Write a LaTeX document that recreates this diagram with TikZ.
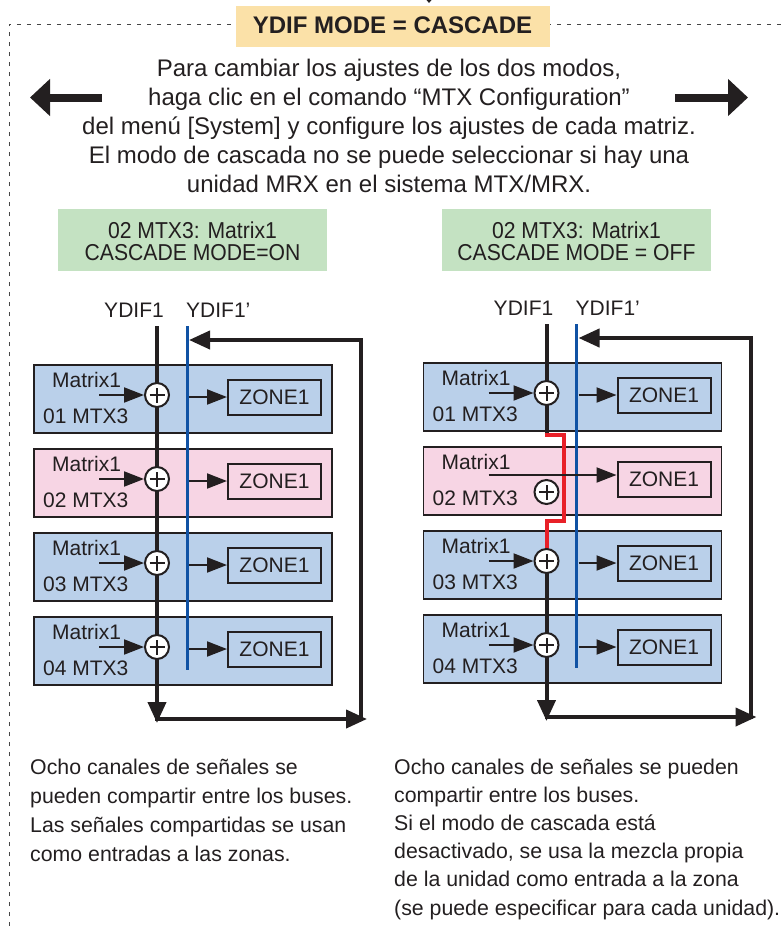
\documentclass[tikz,border=0pt]{standalone}
\usepackage{fontspec}
\setmainfont{Liberation Sans}
\newfontfamily\narrowsans[FakeStretch=0.92]{Liberation Sans}
\usetikzlibrary{arrows.meta}
\definecolor{ink}{RGB}{35,31,32}
\definecolor{titlefill}{RGB}{251,225,168}
\definecolor{greenfill}{RGB}{196,226,194}
\definecolor{unitblue}{RGB}{186,208,234}
\definecolor{unitpink}{RGB}{247,213,228}
\definecolor{busblue}{RGB}{16,82,164}
\definecolor{cascred}{RGB}{232,32,40}
\definecolor{frameg}{RGB}{70,70,70}
\tikzset{
  unitbox/.style={draw=ink, line width=1.6pt, minimum width=298pt, minimum height=68pt, inner sep=0pt},
  zonebox/.style={draw=ink, line width=2pt, minimum width=93pt, minimum height=35pt, inner sep=0pt, font=\fontsize{21}{21}\selectfont},
  lbl/.style={inner sep=0pt, font=\fontsize{21}{21}\selectfont},
  maintext/.style={inner sep=0pt, anchor=base, font=\fontsize{24}{29}\selectfont},
  notetext/.style={inner sep=0pt, anchor=base west, font=\fontsize{21.3}{28}\selectfont},
  greentext/.style={inner sep=0pt, anchor=base, font=\narrowsans\fontsize{23}{22}\selectfont},
  greenbox/.style={fill=greenfill, minimum width=269pt, minimum height=62pt, inner sep=0pt},
  sumnode/.style={circle, draw=ink, fill=white, line width=2pt, minimum size=24pt, inner sep=0pt,
     path picture={\draw[line width=2pt,ink]
       ([xshift=-7.5pt]path picture bounding box.center) -- ([xshift=7.5pt]path picture bounding box.center)
       ([yshift=-7.5pt]path picture bounding box.center) -- ([yshift=7.5pt]path picture bounding box.center);}},
  bus/.style={line width=4pt, draw=ink},
  bluebus/.style={line width=3pt, draw=busblue},
  redbus/.style={line width=4pt, draw=cascred, line join=miter},
  bigtip/.style={-{Triangle[length=21pt,width=18pt]}},
  smallarr/.style={line width=2pt, draw=ink, -{Triangle[length=20pt,width=15pt]}},
  fatarrow/.style={line width=8pt, draw=ink, -{Triangle[length=20pt,width=36pt]}},
  dashframe/.style={draw=frameg, line width=1pt, dash pattern=on 4pt off 6pt},
}
\begin{document}
\begin{tikzpicture}[x=1pt,y=-1pt,color=ink]
\useasboundingbox (0,0) rectangle (783,926);

% dashed frame and title
\coordinate (F1) at (9,926);
\coordinate (F2) at (9,24);
\coordinate (F3) at (783,24);
\draw[dashframe] (F1) -- (F2) -- (F3);
\fill (426.5,0) -- (431.5,0) -- (429,3) -- cycle;
\node[fill=titlefill, minimum width=314pt, minimum height=41pt, inner sep=0pt] (T) at (393,26.5) {};
\node[inner sep=0pt, anchor=base, font=\fontsize{24}{24}\selectfont\bfseries] (Tt) at (392.5,33) {YDIF MODE = CASCADE};

% big arrows
\coordinate (BL1) at (102,97.5);
\coordinate (BL2) at (30,97.5);
\coordinate (BR1) at (675,97.5);
\coordinate (BR2) at (748,97.5);
\draw[fatarrow] (BL1) -- (BL2);
\draw[fatarrow] (BR1) -- (BR2);

% main text
\node[maintext] (P1) at (389,76) {Para cambiar los ajustes de los dos modos,};
\node[maintext] (P2) at (389,105) {haga clic en el comando “MTX Configuration”};
\node[maintext] (P3) at (389,134) {del menú [System] y configure los ajustes de cada matriz.};
\node[maintext] (P4) at (389,163) {El modo de cascada no se puede seleccionar si hay una};
\node[maintext] (P5) at (389,192) {unidad MRX en el sistema MTX/MRX.};

% green boxes
\node[greenbox] (GL) at (192.5,240) {};
\node[greentext] (GL1) at (192.5,238) {02 MTX3: Matrix1};
\node[greentext] (GL2) at (192.5,260) {CASCADE MODE=ON};
\node[greenbox] (GR) at (576.5,240) {};
\node[greentext] (GR1) at (576.5,238) {02 MTX3: Matrix1};
\node[greentext] (GR2) at (576.5,260) {CASCADE MODE = OFF};

% ---------------- left panel ----------------
\begin{scope}
\foreach \i/\c/\f in {1/399/unitblue,2/483/unitpink,3/567/unitblue,4/651/unitblue}{
  \node[unitbox,fill=\f] (Lu\i) at (183,\c) {};
}
\node[lbl,anchor=base] (Ly) at (134,317) {YDIF1};
\node[lbl,anchor=base west] (Lyp) at (186,317) {YDIF1’};
\coordinate (Ltop) at (157,326);
\coordinate (Lbot) at (157,723);
\coordinate (Lbtop) at (187,326);
\coordinate (Lbbot) at (187,670);
\draw[bus,bigtip] (Ltop) -- (Lbot);
\draw[bluebus] (Lbtop) -- (Lbbot);
\foreach \i/\c in {1/399,2/483,3/567,4/651}{
  \node[sumnode] (Ls\i) at (157,\c-4) {};
  \node[zonebox] (Lz\i) at (274.5,\c-2) {ZONE1};
  \node[lbl,anchor=base west] (Lm\i) at (52,\c-12) {Matrix1};
  \node[lbl,anchor=base west] (Ln\i) at (43,\c+24) {0\i{} MTX3};
  \coordinate (Li\i) at (99,\c-4);
  \coordinate (Lo\i) at (189,\c-2);
  \draw[smallarr] (Li\i) -- (Ls\i);
  \draw[smallarr] (Lo\i) -- (Lz\i);
}
\coordinate (Lr1) at (155,719);
\coordinate (Lr2) at (367,719);
\coordinate (Lr3) at (361,721);
\coordinate (Lr4) at (361,340);
\coordinate (Lr5) at (189,340);
\draw[bus,bigtip] (Lr1) -- (Lr2);
\draw[bus,bigtip,line join=miter] (Lr3) -- (Lr4) -- (Lr5);
\end{scope}

% ---------------- right panel ----------------
\begin{scope}[shift={(389.5,-2)}]
\foreach \i/\c/\f in {1/399/unitblue,2/483/unitpink,3/567/unitblue,4/651/unitblue}{
  \node[unitbox,fill=\f] (Ru\i) at (183,\c) {};
}
\node[lbl,anchor=base] (Ry) at (134,317) {YDIF1};
\node[lbl,anchor=base west] (Ryp) at (186,317) {YDIF1’};
\coordinate (Rtop) at (157,326);
\coordinate (Rbrk) at (157,435);
\coordinate (Rred0) at (155,437);
\coordinate (Rred1) at (174.5,437);
\coordinate (Rred2) at (174.5,523);
\coordinate (Rred3) at (157,523);
\coordinate (Rc3) at (157,563);
\coordinate (Rbot) at (157,723);
\coordinate (Rbtop) at (187,326);
\coordinate (Rbbot) at (187,670);
\draw[bus] (Rtop) -- (Rbrk);
\draw[redbus] (Rred0) -- (Rred1) -- (Rred2) -- (Rred3) -- (Rc3);
\draw[bus,bigtip] (Rc3) -- (Rbot);
\draw[bluebus] (Rbtop) -- (Rbbot);
\foreach \i/\c in {1/399,2/483,3/567,4/651}{
  \node[zonebox] (Rz\i) at (274.5,\c-2) {ZONE1};
  \node[lbl,anchor=base west] (Rm\i) at (52,\c-12) {Matrix1};
  \node[lbl,anchor=base west] (Rn\i) at (43,\c+24) {0\i{} MTX3};
}
\foreach \i/\c in {1/399,3/567,4/651}{
  \node[sumnode] (Rs\i) at (157,\c-4) {};
  \coordinate (Ri\i) at (99,\c-4);
  \coordinate (Ro\i) at (189,\c-2);
  \draw[smallarr] (Ri\i) -- (Rs\i);
  \draw[smallarr] (Ro\i) -- (Rz\i);
}
\node[sumnode] (Rs2) at (157,494) {};
\coordinate (Ri2) at (99,477);
\draw[smallarr] (Ri2) -- (Ri2 -| Rz2.west);
\coordinate (Rr1) at (155,719);
\coordinate (Rr2) at (367,719);
\coordinate (Rr3) at (361,721);
\coordinate (Rr4) at (361,340);
\coordinate (Rr5) at (189,340);
\draw[bus,bigtip] (Rr1) -- (Rr2);
\draw[bus,bigtip,line join=miter] (Rr3) -- (Rr4) -- (Rr5);
\end{scope}

% notes
\node[notetext] (NL1) at (30,774) {Ocho canales de señales se};
\node[notetext] (NL2) at (30,803) {pueden compartir entre los buses.};
\node[notetext] (NL3) at (30,832) {Las señales compartidas se usan};
\node[notetext] (NL4) at (30,861) {como entradas a las zonas.};
\node[notetext] (NR1) at (394,774) {Ocho canales de señales se pueden};
\node[notetext] (NR2) at (394,802.2) {compartir entre los buses.};
\node[notetext] (NR3) at (394,830.4) {Si el modo de cascada está};
\node[notetext] (NR4) at (394,858.6) {desactivado, se usa la mezcla propia};
\node[notetext] (NR5) at (394,886.8) {de la unidad como entrada a la zona};
\node[notetext] (NR6) at (394,915) {(se puede especificar para cada unidad).};
\end{tikzpicture}
\end{document}
